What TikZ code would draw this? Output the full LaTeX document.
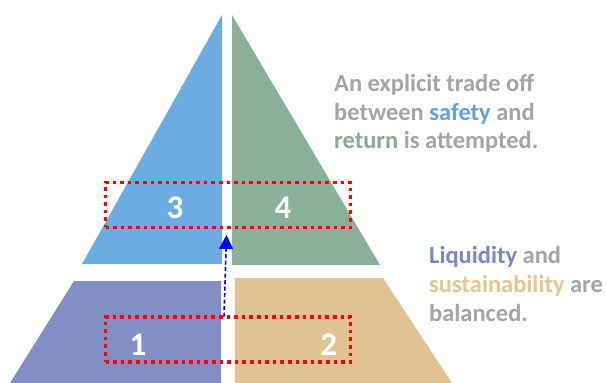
\documentclass[tikz,border=0pt]{standalone}
\usepackage{fontspec}
\setmainfont{Carlito}
\usetikzlibrary{arrows.meta}
\definecolor{cblue}{RGB}{108,172,224}
\definecolor{cgreen}{RGB}{138,176,153}
\definecolor{cpurple}{RGB}{129,143,196}
\definecolor{ctan}{RGB}{225,194,146}
\definecolor{cgray}{RGB}{163,163,168}
\definecolor{tblue}{RGB}{98,160,222}
\definecolor{tgreen}{RGB}{132,172,148}
\definecolor{tpurple}{RGB}{122,136,196}
\definecolor{ttan}{RGB}{232,196,142}
\begin{document}
\begin{tikzpicture}[x=1pt,y=-1pt,
  num/.style={text=white,font=\fontsize{33}{36}\selectfont\bfseries,inner sep=0pt,anchor=base},
  txt/.style={text=cgray,font=\fontsize{24.5}{28}\selectfont\bfseries,inner sep=0pt,anchor=base west},
  redbox/.style={draw=red,line width=3.6pt,dash pattern=on 3.6pt off 4pt,minimum width=245pt,minimum height=45pt,inner sep=0pt},
  uparrow/.style={draw=blue,line width=1.6pt,dash pattern=on 4pt off 2.5pt,-{Triangle[width=14pt,length=14pt]}}
]
\useasboundingbox (0,0) rectangle (606,383);
\begin{scope}
\clip (0,0) rectangle (606,383);
% pyramid pieces
\fill[cblue] (222,15) -- (222,264) -- (82,264) -- cycle;
\fill[cgreen] (232,15) -- (232,265) -- (380,265) -- cycle;
\fill[cpurple] (74,281) -- (221,281) -- (221,383) -- (10,383) -- cycle;
\fill[ctan] (235,278) -- (383,278) -- (452,383) -- (235,383) -- cycle;
\end{scope}
% numbers
\node[num] (n3) at (175,218.5) {3};
\node[num] (n4) at (283,218) {4};
\node[num] (n1) at (138,355) {1};
\node[num] (n2) at (328.7,355) {2};
% red dotted boxes
\node[redbox] (top) at (228,204.8) {};
\node[redbox] (bot) at (228,339.5) {};
% arrow
\coordinate (as) at (224,316.7);
\coordinate (ae) at (226.5,235);
\draw[uparrow] (as) -- (ae);
% texts
\node[txt] (t1) at (334,91) {An explicit trade off};
\node[txt] (t2) at (334,120) {between \textcolor{tblue}{safety} and};
\node[txt] (t3) at (334,148) {\textcolor{tgreen}{return} is attempted.};
\node[txt] (l1) at (429,263.3) {\textcolor{tpurple}{Liquidity} and};
\node[txt] (l2) at (429,292.7) {\textcolor{ttan}{sustainability} are};
\node[txt] (l3) at (429,321.7) {balanced.};
\end{tikzpicture}
\end{document}
